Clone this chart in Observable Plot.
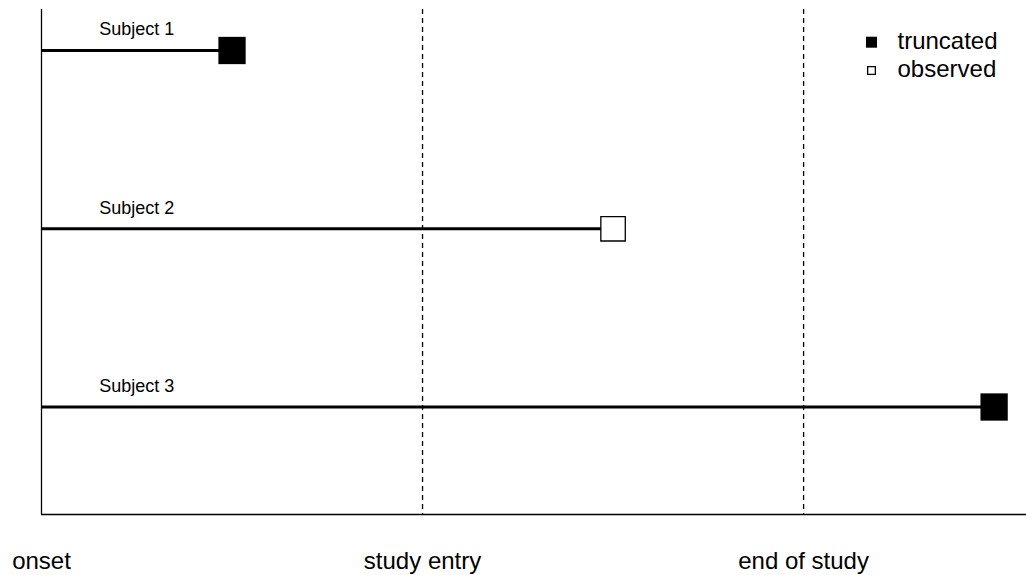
<!DOCTYPE html>
<html>
<head>
<meta charset="utf-8">
<script src="https://cdn.jsdelivr.net/npm/d3@7"></script>
<script src="https://cdn.jsdelivr.net/npm/@observablehq/plot@0.6"></script>
<style>
  html, body { margin: 0; padding: 0; background: #fff; }
  svg { font-family: "Liberation Sans", Arial, sans-serif; }
</style>
</head>
<body>
<div id="chart"></div>
<script>
// Data
const subjects = ["Subject 1", "Subject 2", "Subject 3"];
const subjectRow = [3, 2, 1];
const subjectStart = [0, 0, 0];
const subjectEnd = [0.5, 1.5, 2.5];
const subjectStatus = ["truncated", "observed", "truncated"];
const tickValues = [0, 1, 2];
const tickLabels = ["onset", "study entry", "end of study"];
const markerLines = [1, 2];
const legendLabels = ["truncated", "observed"];
const xDomain = [0, 2.585];
const yDomain = [0.397, 3.23];

const rows = subjects.map((s, i) => ({
  name: s, y: subjectRow[i], x1: subjectStart[i], x2: subjectEnd[i], status: subjectStatus[i]
}));
const filled = rows.filter(d => d.status === "truncated");
const hollow = rows.filter(d => d.status === "observed");

const chart = Plot.plot({
  width: 1026,
  height: 575,
  marginLeft: 41,
  marginRight: 0,
  marginTop: 9,
  marginBottom: 61,
  x: {domain: xDomain},
  y: {domain: yDomain, axis: null},
  style: {fontFamily: "Liberation Sans, Arial, sans-serif", background: "white"},
  marks: [
    Plot.ruleX(markerLines, {stroke: "black", strokeWidth: 1.3, strokeDasharray: "5,4"}),
    Plot.ruleY([yDomain[0]], {stroke: "black", strokeWidth: 1.3}),
    Plot.ruleX([xDomain[0]], {stroke: "black", strokeWidth: 1.3}),
    Plot.ruleY(rows, {y: "y", x1: "x1", x2: "x2", stroke: "black", strokeWidth: 3}),
    Plot.dot(filled, {x: "x2", y: "y", symbol: "square", r: 15.4, fill: "black", stroke: "none"}),
    Plot.dot(hollow, {x: "x2", y: "y", symbol: "square", r: 13.8, fill: "white", stroke: "black", strokeWidth: 1.3}),
    Plot.text(rows, {x: 0.25, y: "y", text: "name", fontSize: 18, lineAnchor: "bottom", dy: -15, fill: "black"}),
    Plot.axisX({ticks: tickValues, tickFormat: (d, i) => tickLabels[tickValues.indexOf(d)], tickSize: 0, tickPadding: 37, fontSize: 24, fill: "black", label: null}),
    // legend
    Plot.dot([legendLabels[0]], {frameAnchor: "top-right", dx: -155, dy: 32.7, symbol: "square", r: 6.2, fill: "black", stroke: "none"}),
    Plot.dot([legendLabels[1]], {frameAnchor: "top-right", dx: -155, dy: 61, symbol: "square", r: 4.35, fill: "white", stroke: "black", strokeWidth: 1.3}),
    Plot.text([legendLabels[0]], {frameAnchor: "top-right", text: d => d, dx: -129, dy: 31.6, textAnchor: "start", lineAnchor: "middle", fontSize: 24, fill: "black"}),
    Plot.text([legendLabels[1]], {frameAnchor: "top-right", text: d => d, dx: -129, dy: 60.3, textAnchor: "start", lineAnchor: "middle", fontSize: 24, fill: "black"})
  ]
});
document.getElementById("chart").appendChild(chart);
</script>
</body>
</html>
